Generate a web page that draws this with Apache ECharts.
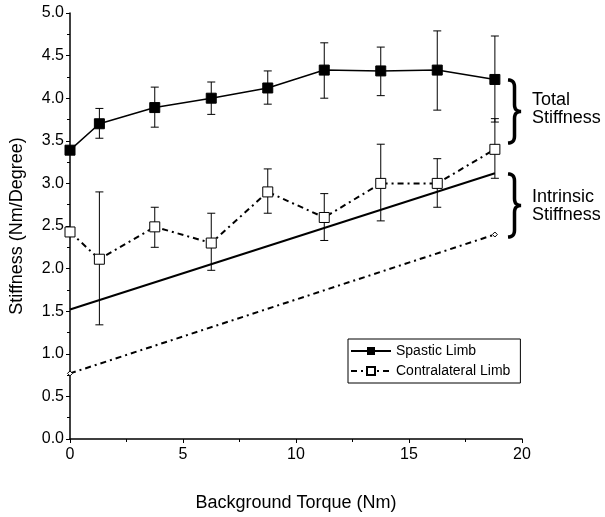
<!DOCTYPE html>
<html>
<head>
<meta charset="utf-8">
<script src="https://cdn.jsdelivr.net/npm/echarts@6/dist/echarts.min.js"></script>
<style>
    html, body {margin: 0; padding: 0; background: #fff;}
    #chart {width: 605px; height: 517px;}
</style>
</head>
<body>
<div id="chart"></div>
<script>
// background torque (Nm) for each measurement
const torque = [0, 1.3, 3.75, 6.25, 8.75, 11.25, 13.75, 16.25, 18.8];

// total stiffness, spastic limb
const spastic = [3.39, 3.70, 3.89, 4.00, 4.12, 4.33, 4.32, 4.33, 4.22];
const spasticLow = [null, 3.53, 3.66, 3.81, 3.93, 4.00, 4.03, 3.86, 3.72];
const spasticHigh = [null, 3.88, 4.13, 4.19, 4.32, 4.65, 4.60, 4.79, 4.73];

// total stiffness, contralateral limb
const contra = [2.43, 2.11, 2.49, 2.30, 2.90, 2.60, 3.00, 3.00, 3.40];
const contraLow = [null, 1.34, 2.25, 1.98, 2.65, 2.33, 2.56, 2.72, 3.06];
const contraHigh = [null, 2.90, 2.72, 2.65, 3.17, 2.88, 3.46, 3.29, 3.76];

// intrinsic stiffness fits
const fitX = [0, 18.8];
const spasticFit = [1.52, 3.12];
const contraFit = [0.77, 2.40];

const font = "'Liberation Sans', Arial, sans-serif";
const dashDot = [6, 4, 2, 4];

function pairs(xs, ys) {
    return xs.map((x, i) => [x, ys[i]]);
}

function errData(lo, hi) {
    return torque.map((x, i) => [x, lo[i], hi[i]]).filter(d => d[1] != null);
}

function renderErr(params, api) {
    const top = api.coord([api.value(0), api.value(2)]);
    const bot = api.coord([api.value(0), api.value(1)]);
    const w = 4;
    const st = {stroke: '#000', lineWidth: 1};
    return {
        type: 'group',
        children: [
            {type: 'line', shape: {x1: top[0], y1: top[1], x2: bot[0], y2: bot[1]}, style: st},
            {type: 'line', shape: {x1: top[0] - w, y1: top[1], x2: top[0] + w, y2: top[1]}, style: st},
            {type: 'line', shape: {x1: bot[0] - w, y1: bot[1], x2: bot[0] + w, y2: bot[1]}, style: st}
        ]
    };
}

// curly brace "}" as a polyline (quadratic curves sampled)
function quad(p0, c, p1, out) {
    for (let t = 0; t <= 1.0001; t += 0.125) {
        const u = 1 - t;
        out.push([u * u * p0[0] + 2 * u * t * c[0] + t * t * p1[0],
            u * u * p0[1] + 2 * u * t * c[1] + t * t * p1[1]]);
    }
}

function brace(x, y0, y1, w) {
    const m = (y0 + y1) / 2, h = w / 2, r = 7;
    const pts = [];
    quad([x, y0], [x + h, y0], [x + h, y0 + r], pts);
    quad([x + h, m - r], [x + h, m], [x + w, m], pts);
    quad([x + w, m], [x + h, m], [x + h, m + r], pts);
    quad([x + h, y1 - r], [x + h, y1], [x, y1], pts);
    return pts;
}

let chart = echarts.init(document.getElementById('chart'));

let option = {
    animation: false,
    textStyle: {fontFamily: font, color: '#000'},
    grid: {left: 66, right: 83, top: 13, bottom: 72},
    legend: {
        orient: 'vertical',
        left: 348,
        top: 339,
        data: ['Spastic Limb', 'Contralateral Limb'],
        borderColor: '#000',
        borderWidth: 1,
        padding: [5, 10, 5, 2],
        itemGap: 6,
        itemWidth: 40,
        itemHeight: 10,
        textStyle: {fontFamily: font, fontSize: 14, color: '#000'}
    },
    xAxis: {
        type: 'value',
        min: 0,
        max: 20,
        interval: 5,
        name: 'Background Torque (Nm)',
        nameLocation: 'middle',
        nameGap: 55,
        nameTextStyle: {fontSize: 18, color: '#000'},
        axisLine: {lineStyle: {color: '#000', width: 1.5}},
        axisTick: {length: 4, lineStyle: {color: '#000'}},
        minorTick: {show: true, splitNumber: 2, length: 3, lineStyle: {color: '#000'}},
        axisLabel: {fontSize: 16, color: '#000', margin: 8},
        splitLine: {show: false}
    },
    yAxis: {
        type: 'value',
        min: 0,
        max: 5,
        interval: 0.5,
        name: 'Stiffness (Nm/Degree)',
        nameLocation: 'middle',
        nameGap: 44,
        nameTextStyle: {fontSize: 18, color: '#000'},
        axisLine: {show: true, lineStyle: {color: '#000', width: 1.5}},
        axisTick: {show: true, length: 4, lineStyle: {color: '#000'}},
        minorTick: {show: true, splitNumber: 2, length: 3, lineStyle: {color: '#000'}},
        axisLabel: {fontSize: 16, color: '#000', margin: 6, formatter: v => v.toFixed(1)},
        splitLine: {show: false}
    },
    series: [
        {
            type: 'custom',
            name: 'spasticErr',
            renderItem: renderErr,
            data: errData(spasticLow, spasticHigh),
            z: 1
        },
        {
            type: 'custom',
            name: 'contraErr',
            renderItem: renderErr,
            data: errData(contraLow, contraHigh),
            z: 1
        },
        {
            type: 'line',
            name: 'Intrinsic Spastic',
            data: pairs(fitX, spasticFit),
            symbol: 'none',
            lineStyle: {color: '#000', width: 2},
            z: 2
        },
        {
            type: 'line',
            name: 'Intrinsic Contralateral',
            data: pairs(fitX, contraFit),
            symbol: 'diamond',
            symbolSize: 5,
            itemStyle: {color: '#fff', borderColor: '#000', borderWidth: 1},
            lineStyle: {color: '#000', width: 2, type: dashDot},
            z: 2
        },
        {
            type: 'line',
            name: 'Spastic Limb',
            data: pairs(torque, spastic),
            symbol: 'rect',
            symbolSize: 10,
            itemStyle: {color: '#000', borderColor: '#000'},
            lineStyle: {color: '#000', width: 1.5},
            z: 3
        },
        {
            type: 'line',
            name: 'Contralateral Limb',
            data: pairs(torque, contra),
            symbol: 'rect',
            symbolSize: 10,
            itemStyle: {color: '#fff', borderColor: '#000', borderWidth: 1},
            lineStyle: {color: '#000', width: 2, type: dashDot},
            z: 3
        }
    ],
    graphic: [
        {type: 'polyline', shape: {points: brace(508, 80, 143, 13)}, style: {stroke: '#000', fill: null, lineWidth: 3.5}},
        {type: 'polyline', shape: {points: brace(508, 174, 237, 13)}, style: {stroke: '#000', fill: null, lineWidth: 3.5}},
        {type: 'text', left: 532, top: 91, style: {text: 'Total\nStiffness', font: '18px ' + font, lineHeight: 18, fill: '#000'}},
        {type: 'text', left: 532, top: 188, style: {text: 'Intrinsic\nStiffness', font: '18px ' + font, lineHeight: 18, fill: '#000'}}
    ]
};

chart.setOption(option);
</script>
</body>
</html>
